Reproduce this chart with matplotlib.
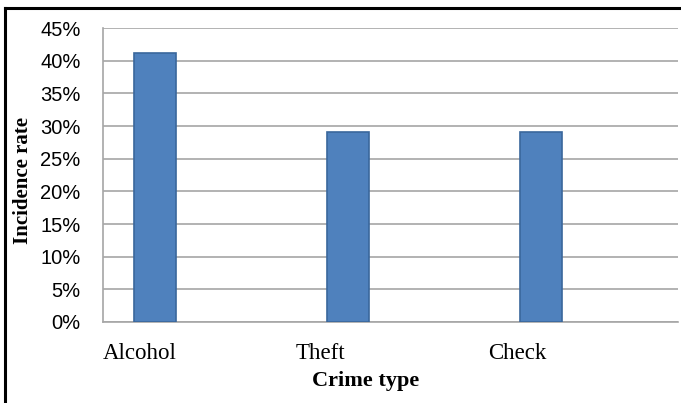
import numpy as np
import matplotlib
matplotlib.use("Agg")
import matplotlib.pyplot as plt

# data
crime_types = ["Alcohol", "Theft", "Check"]
incidence = [41.1, 29.1, 29.1]  # percent
y_ticks = [0, 5, 10, 15, 20, 25, 30, 35, 40, 45]

fig = plt.figure(figsize=(6.81, 4.03), dpi=100)
ax = fig.add_axes([0.1512, 0.201, 0.8444, 0.7295])

x = np.arange(len(crime_types))
ax.bar(x, incidence, width=0.218, color="#4F81BD", edgecolor="#3A679C",
       linewidth=1.2, zorder=3)

ax.set_xlim(-0.272, 2.711)
ax.set_ylim(0, 45)
ax.set_yticks(y_ticks)
ax.set_yticklabels([f"{v}%" for v in y_ticks], family="Liberation Sans", fontsize=14.5)
ax.grid(axis="y", color="#A6A6A6", linewidth=1.2, zorder=0)
ax.tick_params(axis="y", length=0, pad=16)

# category labels are left aligned a bit before each bar, like the original
ax.set_xticks(x - 0.272)
ax.set_xticklabels(crime_types, family="Liberation Serif", fontsize=16.5, ha="left")
ax.tick_params(axis="x", length=0, pad=15)

for side in ["top", "right"]:
    ax.spines[side].set_visible(False)
ax.spines["left"].set_color("#A6A6A6")
ax.spines["bottom"].set_color("#A6A6A6")
ax.spines["left"].set_linewidth(1.2)
ax.spines["bottom"].set_linewidth(1.2)

ax.set_ylabel("Incidence rate", family="Liberation Serif", fontweight="bold", fontsize=15)
ax.yaxis.set_label_coords(-0.121, 0.48)
fig.text(366 / 681, 1 - 381 / 403, "Crime type", family="Liberation Serif",
         fontweight="bold", fontsize=16, ha="center", va="center")

# black frame round the chart (only left and top show in the reference)
fig.add_artist(plt.Line2D([5 / 681, 5 / 681], [0, 1 - 8 / 403], color="black", linewidth=2.2))
fig.add_artist(plt.Line2D([5 / 681, 1], [1 - 8 / 403, 1 - 8 / 403], color="black", linewidth=2.2))

fig.savefig("out.png", dpi=100)
